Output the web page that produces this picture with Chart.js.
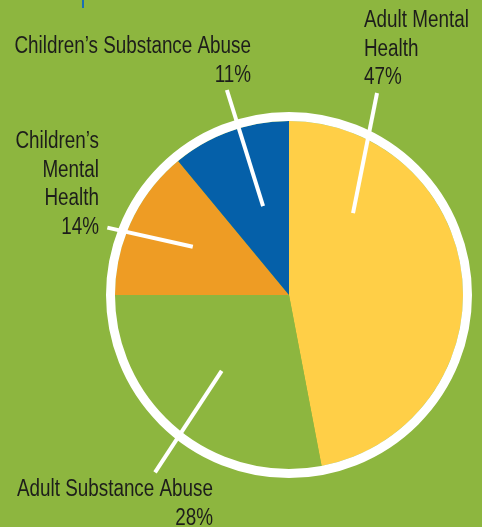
<!DOCTYPE html>
<html>
<head>
<meta charset="utf-8">
<script src="https://cdn.jsdelivr.net/npm/chart.js@4"></script>
<style>
  html, body { margin: 0; padding: 0; background: #8db63f; }
  #wrap { position: relative; width: 482px; height: 527px; }
  #tick { position: absolute; left: 82px; top: 0; width: 2px; height: 8px; background: #1b6fb3; }
</style>
</head>
<body>
<div id="wrap">
  <canvas id="pie"></canvas>
  <div id="tick"></div>
</div>
<script>
const categories = ['Adult Mental Health', 'Adult Substance Abuse', 'Children’s Mental Health', 'Children’s Substance Abuse'];
const shares = [47, 28, 14, 11];
const labelLines = [['Adult Mental', 'Health'], ['Adult Substance Abuse'], ['Children’s', 'Mental', 'Health'], ['Children’s Substance Abuse']];

const bg = '#8db63f';
const sliceColors = ['#ffcf47', bg, '#ee9c24', '#0560a9'];
const font = '23px "Liberation Sans", Arial, sans-serif';
const narrow = 0.82; // squeeze Liberation Sans to a condensed face
const lineH = 28.5;

// text anchor (px from pie centre) and leader line (in radius units from centre)
const placement = [
    {align: 'left',  dx: 75,   dy: -268, leader: [[0.368, -0.471], [0.506, -1.161]]},
    {align: 'right', dx: -76,  dy: 201,  leader: [[-0.387, 0.436], [-0.770, 1.019]]},
    {align: 'right', dx: -190, dy: -147, leader: [[-0.553, -0.277], [-1.044, -0.387]]},
    {align: 'right', dx: -38,  dy: -242, leader: [[-0.149, -0.511], [-0.357, -1.178]]}
];

const annotate = {
    id: 'annotate',
    afterDatasetsDraw: chart => {
        const ctx = chart.ctx;
        const arc = chart.getDatasetMeta(0).data[0];
        const cx = arc.x, cy = arc.y, r = arc.outerRadius;
        ctx.save();

        // white ring round the pie
        ctx.strokeStyle = '#ffffff';
        ctx.lineWidth = 9;
        ctx.beginPath();
        ctx.arc(cx, cy, r + 4.5, 0, Math.PI * 2);
        ctx.stroke();

        ctx.lineWidth = 4;
        ctx.lineCap = 'butt';
        ctx.font = font;
        ctx.fillStyle = '#1d1d1b';
        ctx.textBaseline = 'alphabetic';

        placement.forEach((p, i) => {
            const a = p.leader[0], b = p.leader[1];
            ctx.beginPath();
            ctx.moveTo(cx + a[0] * r, cy + a[1] * r);
            ctx.lineTo(cx + b[0] * r, cy + b[1] * r);
            ctx.stroke();

            const lines = labelLines[i].concat([shares[i] + '%']);
            ctx.textAlign = p.align;
            lines.forEach((t, k) => {
                ctx.save();
                ctx.translate(cx + p.dx, cy + p.dy + k * lineH);
                ctx.scale(narrow, 1);
                ctx.fillText(t, 0, 0);
                ctx.restore();
            });
        });
        ctx.restore();
    }
};

new Chart(document.getElementById('pie'), {
    type: 'pie',
    data: {
        labels: categories,
        datasets: [{
            data: shares,
            backgroundColor: sliceColors,
            borderWidth: 0
        }]
    },
    options: {
        responsive: true,
        maintainAspectRatio: false,
        animation: false,
        layout: {padding: {left: 115, right: 19, top: 121, bottom: 58}},
        plugins: {
            legend: {display: false},
            tooltip: {enabled: false}
        }
    },
    plugins: [annotate]
});
</script>
</body>
</html>
